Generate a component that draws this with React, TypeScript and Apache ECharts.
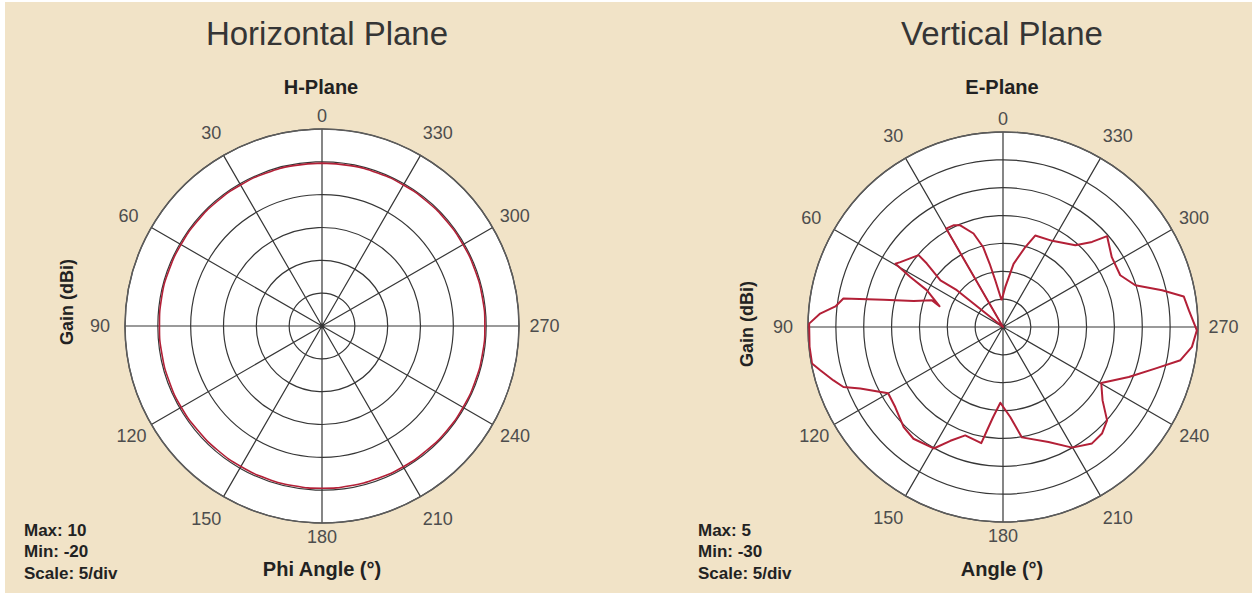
import React, { useEffect, useRef } from "react";
import * as echarts from "echarts";

// Angular tick positions (degrees, counter-clockwise from the top)
const angleTicks = [0, 30, 60, 90, 120, 150, 180, 210, 240, 270, 300, 330];

// Horizontal plane (H-plane) gain, dBi, sampled every 10 degrees
const hAngles = [
  0, 10, 20, 30, 40, 50, 60, 70, 80, 90, 100, 110, 120, 130, 140, 150, 160, 170, 180,
  190, 200, 210, 220, 230, 240, 250, 260, 270, 280, 290, 300, 310, 320, 330, 340, 350, 360,
];
const hGain = [
  4.8, 4.8, 4.8, 4.8, 4.8, 4.8, 4.8, 4.8, 4.8, 4.75, 4.75, 4.75, 4.75, 4.7, 4.7, 4.7, 4.7, 4.7, 4.7,
  4.7, 4.7, 4.75, 4.75, 4.8, 4.8, 4.8, 4.8, 4.8, 4.8, 4.8, 4.8, 4.8, 4.8, 4.8, 4.8, 4.8, 4.8,
];

// Vertical plane (E-plane) gain, dBi, in drawing order around the pattern
const eAngles = [
  3, 9.4, 11.9, 14, 17.5, 22.8, 26, 30, 30, 50, 51.5, 51.4, 53.3, 50.2, 49.6, 57.7, 59.5,
  61.7, 64.2, 71.8, 69.4, 73.8, 77.1, 79.9, 83, 85.8, 89, 95.8, 100.8, 103.3, 107.5, 110.6,
  113.3, 120, 126.6, 135.2, 141.3, 150.3, 155.2, 160.8, 169.4, 171.2, 173.7, 178, 184.6,
  189.7, 201.6, 209.8, 217.4, 222.9, 228.1, 233.6, 240.3, 248.3, 254.7, 259.4, 264, 269,
  275.1, 279.6, 283, 287.5, 293.8, 302.7, 311.1, 313.7, 318.5, 330.3, 340.6, 344.4, 350.5,
  356.7, 3,
];
const eGain = [
  -25.2, -21.5, -18.4, -15.2, -12.4, -10.2, -9.7, -9.6, -30, -30, -23.3, -19.4, -16, -12.2,
  -10.1, -8.2, -7.6, -11.1, -14.8, -18, -16.4, -13.3, -8, -0.9, 0.3, 2.9, 4.8, 4.9, 4.9, 3.7,
  1.9, 0.6, -2.1, -6.2, -5.9, -4.7, -4.3, -4.9, -7.5, -9.4, -8.8, -11.2, -13.7, -16.4, -13.8,
  -9.9, -7.8, -5.05, -3.7, -3.9, -4.9, -7.8, -9.7, -5.7, -1.7, 2.4, 4.1, 4.8, 3.5, 2.9, -0.7,
  -5.1, -7, -6.8, -5.2, -7.9, -10.4, -12.2, -12.6, -15.1, -18.5, -22.8, -25.2,
];

// Radial scales of the two plots
const hScale = { max: 10, min: -20, step: 5 };
const eScale = { max: 5, min: -30, step: 5 };

// Placement of the two polar plots
const hPolar = { cx: 322, cy: 326, r: 197 };
const ePolar = { cx: 1003, cy: 327, r: 195 };

const FONT = "'Liberation Sans', Arial, Helvetica, sans-serif";
const RED = "#b32037";
const GRID = "#363636";
const LABEL = "#4d4d4d";
const INK = "#222222";

// per-label box padding so the angle labels sit evenly around the rim
const labelPadding = (v: number): number[] => {
  switch (v) {
    case 30:
      return [0, 0, 9.5, 0];
    case 330:
      return [0, 0, 9, 0];
    case 60:
      return [0, 9, 0, 0];
    case 90:
      return [0, 10.5, 0, 0];
    case 120:
      return [0, 1, 0, 0];
    case 150:
    case 210:
      return [9.7, 0, 0, 0];
    case 240:
      return [0, 0, 0, 3.5];
    case 270:
      return [0, 0, 0, 6];
    case 300:
      return [0, 0, 0, 3.3];
    default:
      return [0, 0, 0, 0];
  }
};

const angleRich: Record<string, any> = {};
angleTicks.forEach((t) => {
  angleRich["a" + t] = {
    fontFamily: FONT,
    fontSize: 18,
    color: LABEL,
    padding: labelPadding(t),
  };
});

const angleAxis = (polarIndex: number) => ({
  polarIndex,
  type: "value" as const,
  min: 0,
  max: 360,
  interval: 30,
  startAngle: 90,
  clockwise: false,
  axisLine: { show: true, lineStyle: { color: "#5c5c5c", width: 1.5 } },
  axisTick: { show: false },
  splitLine: { show: true, lineStyle: { color: GRID, width: 1.2 } },
  axisLabel: {
    show: true,
    margin: 4.5,
    formatter: (v: number) => (angleTicks.indexOf(v) >= 0 ? `{a${v}|${v}}` : ""),
    rich: angleRich,
  },
});

const radiusAxis = (polarIndex: number, s: { max: number; min: number; step: number }) => ({
  polarIndex,
  type: "value" as const,
  min: s.min,
  max: s.max,
  interval: s.step,
  axisLine: { show: false },
  axisTick: { show: false },
  axisLabel: { show: false },
  splitLine: { show: true, lineStyle: { color: GRID, width: 1.2 } },
});

const text = (
  x: number,
  y: number,
  str: string,
  size: number,
  opts: { bold?: boolean; align?: string; color?: string; rotation?: number } = {}
) => ({
  type: "text",
  x,
  y,
  rotation: opts.rotation || 0,
  style: {
    text: str,
    fontFamily: FONT,
    fontSize: size,
    fontWeight: opts.bold ? "bold" : "normal",
    fill: opts.color || INK,
    textAlign: opts.align || "center",
    textVerticalAlign: "middle",
  },
});

// white face behind each polar grid
const face = (p: { cx: number; cy: number; r: number }) => ({
  type: "circle",
  z: -5,
  silent: true,
  shape: { cx: p.cx, cy: p.cy, r: p.r },
  style: { fill: "#ffffff" },
});

export default function App() {
  const ref = useRef<HTMLDivElement>(null);

  useEffect(() => {
    if (!ref.current) return;
    const chart = echarts.init(ref.current, undefined, { renderer: "svg" });

    const scaleBlock = (x: number, s: { max: number; min: number; step: number }) => [
      text(x, 530, `Max: ${s.max}`, 17, { bold: true, align: "left" }),
      text(x, 551, `Min: ${s.min}`, 17, { bold: true, align: "left" }),
      text(x, 573, `Scale: ${s.step}/div`, 17, { bold: true, align: "left" }),
    ];

    chart.setOption({
      animation: false,
      backgroundColor: "#ffffff",
      polar: [
        { center: [hPolar.cx, hPolar.cy], radius: hPolar.r },
        { center: [ePolar.cx, ePolar.cy], radius: ePolar.r },
      ],
      angleAxis: [angleAxis(0), angleAxis(1)],
      radiusAxis: [radiusAxis(0, hScale), radiusAxis(1, eScale)],
      graphic: [
        {
          type: "rect",
          z: -10,
          silent: true,
          shape: { x: 5, y: 2, width: 1247, height: 591 },
          style: { fill: "#f1e3c7" },
        },
        face(hPolar),
        face(ePolar),
        text(327, 33, "Horizontal Plane", 33, { color: "#353535" }),
        text(1002, 33, "Vertical Plane", 33, { color: "#353535" }),
        text(321, 87, "H-Plane", 20, { bold: true }),
        text(1002, 87, "E-Plane", 20, { bold: true }),
        text(67, 302, "Gain (dBi)", 18, { bold: true, rotation: Math.PI / 2 }),
        text(747, 324, "Gain (dBi)", 18, { bold: true, rotation: Math.PI / 2 }),
        text(322, 569, "Phi Angle (°)", 20, { bold: true }),
        text(1002, 569, "Angle (°)", 20, { bold: true }),
        ...scaleBlock(24, hScale),
        ...scaleBlock(698, eScale),
      ],
      series: [
        {
          type: "line",
          coordinateSystem: "polar",
          polarIndex: 0,
          showSymbol: false,
          smooth: true,
          lineStyle: { color: RED, width: 1.6 },
          data: hAngles.map((a, i) => [hGain[i], a]),
          z: 5,
        },
        {
          type: "line",
          coordinateSystem: "polar",
          polarIndex: 1,
          showSymbol: false,
          lineStyle: { color: RED, width: 2, join: "round" },
          data: eAngles.map((a, i) => [eGain[i], a]),
          z: 5,
        },
      ],
    });

    return () => chart.dispose();
  }, []);

  return (
    <div
      ref={ref}
      style={{ position: "absolute", left: 0, top: 0, width: 1252, height: 595 }}
    />
  );
}
